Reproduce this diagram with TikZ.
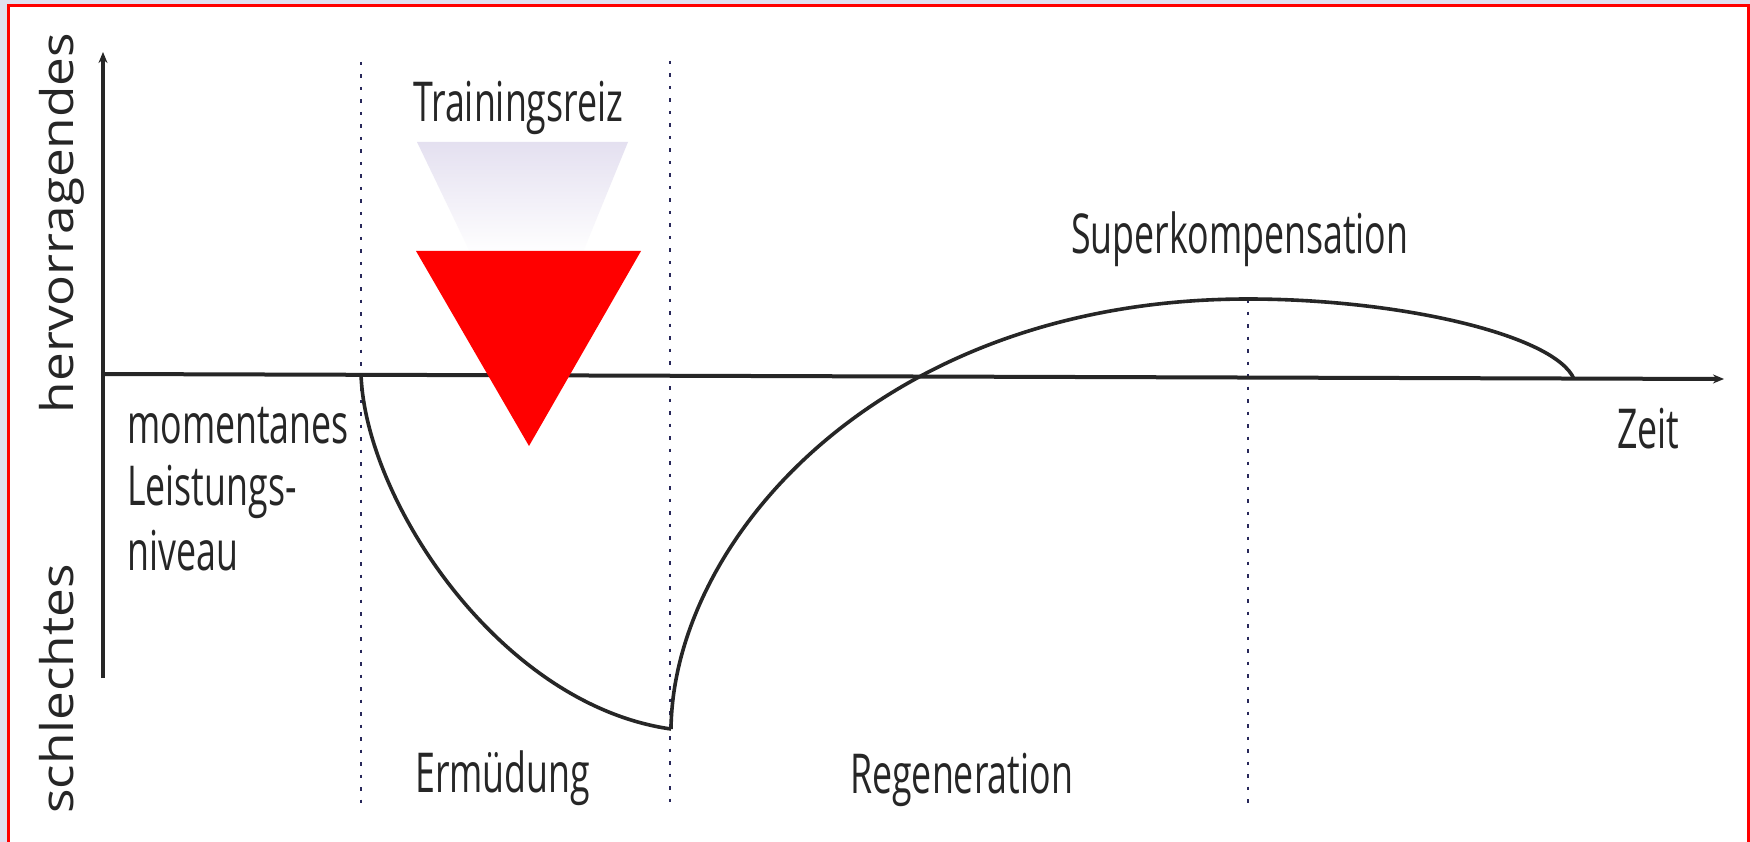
\documentclass[tikz,border=0pt]{standalone}
\usepackage{fontspec}
\setmainfont{Open Sans}[FakeStretch=0.65]
\newfontfamily\rotfont{Open Sans}[FakeStretch=1.14]
\usetikzlibrary{arrows.meta}
\definecolor{lav}{RGB}{224,224,240}
\definecolor{ink}{RGB}{38,38,38}
\definecolor{dotc}{RGB}{40,40,90}
\definecolor{stip}{RGB}{228,224,240}
\tikzset{
  axisline/.style={ink, line width=4pt, -{Stealth[length=11pt,width=9pt]}},
  curveline/.style={ink, line width=3.6pt},
  dotline/.style={dotc, line width=2.8pt, dash pattern=on 3.5pt off 9pt},
  lbl/.style={inner sep=0pt, anchor=base west, text=ink, font=\fontsize{55}{60}\selectfont},
  rotlbl/.style={inner sep=0pt, anchor=base, rotate=90, text=ink, font=\rotfont\fontsize{45}{50}\selectfont}
}
\begin{document}
\begin{tikzpicture}[x=1pt,y=-1pt]
\useasboundingbox (0,0) rectangle (1750,842);
% frame
\fill[lav] (0,0) rectangle (1750,842);
\fill[white] (8,5.5) rectangle (1750,842);
\draw[red, line width=3pt] (8.5,843) -- (8.5,5.5) -- (1748.5,5.5) -- (1748.5,843);
% coordinates
\coordinate (O) at (103,374);
\coordinate (Ytop) at (103,52);
\coordinate (Ybot) at (103,678);
\coordinate (Xend) at (1724,379);
\coordinate (A1) at (361,62);   \coordinate (B1) at (361,806);
\coordinate (A2) at (670,61);   \coordinate (B2) at (670,806);
\coordinate (A3) at (1248,299); \coordinate (B3) at (1248,806);
\coordinate (S) at (361,374);
\coordinate (M) at (671,729);
\coordinate (P) at (1248,299);
\coordinate (E) at (1574,379);
\coordinate (T1) at (416,251); \coordinate (T2) at (641,251); \coordinate (T3) at (529,446);
% stimulus stipple
\shade[top color=stip, bottom color=white!97!stip] (417,142) -- (628,142) -- (583,252) -- (470,252) -- cycle;
% dotted lines
\draw[dotline] (A1) -- (B1);
\draw[dotline] (A2) -- (B2);
\draw[dotline] (A3) -- (B3);
% axes
\draw[axisline] (Ybot) -- (Ytop);
\draw[axisline] (O) -- (Xend);
% curves
\draw[curveline] (S) .. controls (365,500) and (500,705) .. (M);
\draw[curveline] (M) .. controls (673,540) and (880,299) .. (P);
\draw[curveline] (P) .. controls (1400,299) and (1555,335) .. (E);
% triangle
\fill[red] (T1) -- (T2) -- (T3) -- cycle;
% labels
\node[lbl] (tr) at (413,122) {Trainingsreiz};
\node[lbl] (sk) at (1071,254) {Superkompensation};
\node[lbl] (ze) at (1617,448) {Zeit};
\node[lbl] (mo) at (127,443) {momentanes};
\node[lbl] (le) at (127,505) {Leistungs-};
\node[lbl] (ni) at (127,570) {niveau};
\node[lbl] (er) at (415,792) {Ermüdung};
\node[lbl] (re) at (850,793) {Regeneration};
\node[rotlbl] (hv) at (73,223) {hervorragendes};
\node[rotlbl] (sc) at (73,689) {schlechtes};
\end{tikzpicture}
\end{document}
